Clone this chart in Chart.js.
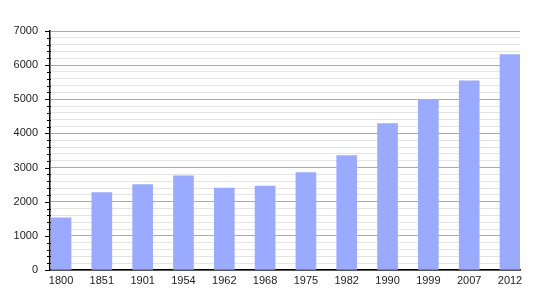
<!DOCTYPE html>
<html>
<head>
<meta charset="utf-8">
<script src="https://cdn.jsdelivr.net/npm/chart.js@4/dist/chart.umd.min.js"></script>
<style>
  html, body { margin: 0; padding: 0; background: #fff; }
  #wrap { width: 550px; height: 300px; position: relative; }
</style>
</head>
<body>
<div id="wrap"><canvas id="c"></canvas></div>
<script>
const categories = ['1800','1851','1901','1954','1962','1968','1975','1982','1990','1999','2007','2012'];
const population = [1530, 2270, 2500, 2760, 2400, 2460, 2850, 3350, 4290, 5000, 5540, 6310];
const yMax = 7000;
const yMajorStep = 1000;
const yMinorStep = 200;

const points = categories.map((c, i) => ({ x: i, y: population[i] }));

const tickPlugin = {
  id: 'yTicks',
  afterDraw(chart) {
    const y = chart.scales.y;
    const ctx = chart.ctx;
    const left = chart.chartArea.left;
    ctx.save();
    ctx.strokeStyle = '#000';
    ctx.lineWidth = 1;
    for (let v = 0; v <= yMax; v += yMinorStep) {
      const py = Math.round(y.getPixelForValue(v)) + 0.5;
      const major = v % yMajorStep === 0;
      ctx.beginPath();
      ctx.moveTo(left - (major ? 5 : 3), py);
      ctx.lineTo(left + (major ? 0 : 1), py);
      ctx.stroke();
    }
    ctx.restore();
  }
};

new Chart(document.getElementById('c'), {
  type: 'bar',
  data: {
    datasets: [{
      data: points,
      backgroundColor: '#99aaff',
      borderWidth: 0,
      barThickness: 20
    }]
  },
  options: {
    responsive: true,
    maintainAspectRatio: false,
    animation: false,
    layout: { padding: { left: 0, right: 30, top: 31, bottom: 0 } },
    plugins: { legend: { display: false }, tooltip: { enabled: false } },
    scales: {
      x: {
        type: 'linear',
        offset: false,
        min: -0.27,
        max: 11.245,
        grid: { display: false, drawTicks: false, offset: false },
        border: { display: true, color: '#000', width: 1.5 },
        ticks: {
          stepSize: 1,
          includeBounds: false,
          autoSkip: false,
          maxRotation: 0,
          padding: 4,
          color: '#222',
          font: { family: 'Liberation Sans', size: 11 },
          callback: (v) => Number.isInteger(v) && categories[v] !== undefined ? categories[v] : ''
        },
        afterFit: (s) => { s.height = 30; }
      },
      y: {
        min: 0,
        max: yMax,
        grid: {
          drawTicks: false,
          color: (ctx) => (ctx.tick && ctx.tick.value % yMajorStep === 0) ? '#aaaaaa' : '#e4e4e4',
          lineWidth: 1
        },
        border: { display: true, color: '#000', width: 1.5 },
        ticks: {
          stepSize: yMinorStep,
          autoSkip: false,
          padding: 12,
          color: '#222',
          font: { family: 'Liberation Sans', size: 11 },
          callback: (v) => v % yMajorStep === 0 ? String(v) : ''
        },
        afterFit: (s) => { s.width = 50; }
      }
    }
  },
  plugins: [tickPlugin]
});
</script>
</body>
</html>
